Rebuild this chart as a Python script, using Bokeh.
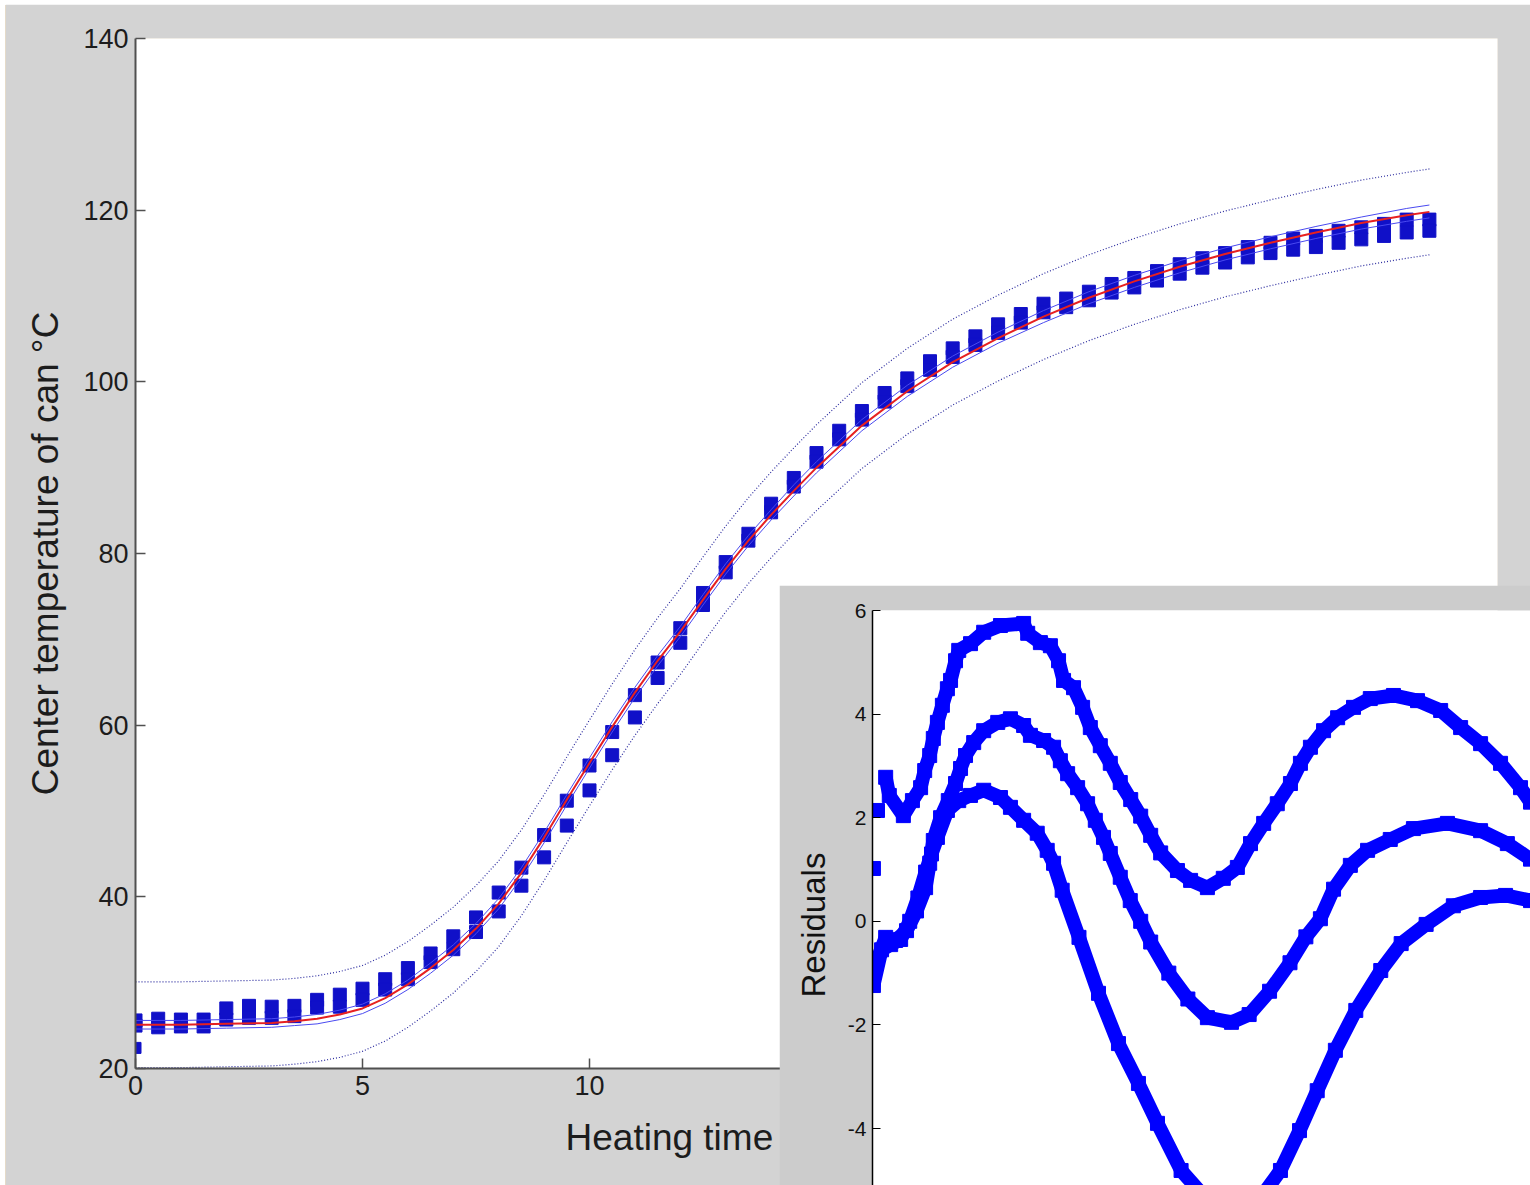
import math
from bokeh.plotting import figure
from bokeh.models import FixedTicker, Title, Range1d, Div
from bokeh.embed import file_html
from bokeh.resources import INLINE

# ---------------- main chart data ----------------
time_min = [0.0, 0.5, 1.0, 1.5, 2.0, 2.5, 3.0, 3.5, 4.0, 4.5, 5.0, 5.5, 6.0, 6.5, 7.0, 7.5,
            8.0, 8.5, 9.0, 9.5, 10.0, 10.5, 11.0, 11.5, 12.0, 12.5, 13.0, 13.5, 14.0, 14.5,
            15.0, 15.5, 16.0, 16.5, 17.0, 17.5, 18.0, 18.5, 19.0, 19.5, 20.0, 20.5, 21.0,
            21.5, 22.0, 22.5, 23.0, 23.5, 24.0, 24.5, 25.0, 25.5, 26.0, 26.5, 27.0, 27.5,
            28.0, 28.5]
temp_run1 = [25.6, 25.8, 25.7, 25.7, 27.0, 27.3, 27.2, 27.3, 28.0, 28.6, 29.3, 30.4, 31.7, 33.4,
             35.4, 37.6, 40.5, 43.4, 47.2, 51.2, 55.3, 59.2, 63.5, 67.3, 71.3, 75.4, 79.0, 82.3,
             85.8, 88.8, 91.7, 94.3, 96.6, 98.7, 100.4, 102.4, 103.9, 105.3, 106.7, 107.9, 109.1,
             109.7, 110.5, 111.4, 112.1, 112.9, 113.7, 114.4, 115.0, 115.7, 116.2, 116.7, 117.0,
             117.6, 118.0, 118.4, 118.9, 118.9]
temp_run2 = [25.0, 24.8, 24.9, 24.9, 25.7, 25.9, 25.9, 26.1, 27.1, 27.2, 28.0, 29.2, 30.4, 32.4,
             33.9, 35.9, 38.3, 41.3, 44.6, 48.3, 52.4, 56.5, 60.9, 65.5, 69.6, 74.0, 77.8, 81.5,
             84.8, 87.8, 90.7, 93.3, 95.6, 97.7, 99.5, 101.4, 102.9, 104.3, 105.7, 106.9, 108.1,
             108.7, 109.5, 110.4, 111.0, 111.8, 112.6, 113.3, 113.9, 114.5, 115.0, 115.4, 115.7,
             116.2, 116.6, 117.0, 117.4, 117.6]
extra_time = [0.0]
extra_temp = [22.4]

fit_x = [0, 1, 2, 3, 3.5, 4, 4.5, 5, 5.5, 6, 6.5, 7, 7.5, 8, 8.5, 9, 9.5, 10, 10.5, 11, 11.5,
         12, 12.5, 13, 13.5, 14, 14.5, 15, 16, 17, 18, 19, 20, 21, 22, 23, 24, 25, 26, 27, 28, 28.5]
fit_y = [25.1, 25.1, 25.2, 25.3, 25.5, 25.8, 26.3, 27.0, 28.2, 29.8, 31.7, 33.8, 36.3, 39.2, 42.8,
         46.9, 51.3, 55.6, 59.8, 63.8, 67.5, 70.9, 74.6, 78.2, 81.5, 84.5, 87.3, 90.0, 94.9, 98.9,
         102.3, 105.1, 107.6, 109.8, 111.7, 113.4, 114.9, 116.2, 117.4, 118.5, 119.4, 119.8]
conf_hi = [25.6, 25.6, 25.7, 25.8, 26.0, 26.3, 26.8, 27.5, 28.7, 30.3, 32.3, 34.4, 36.9, 39.8, 43.4,
           47.5, 51.9, 56.2, 60.4, 64.4, 68.1, 71.5, 75.2, 78.8, 82.1, 85.1, 88.0, 90.7, 95.6, 99.6,
           103.0, 105.8, 108.3, 110.5, 112.4, 114.1, 115.6, 116.9, 118.1, 119.2, 120.2, 120.6]
conf_lo = [24.6, 24.6, 24.7, 24.8, 25.0, 25.2, 25.7, 26.4, 27.6, 29.2, 31.1, 33.2, 35.7, 38.6, 42.2,
           46.3, 50.7, 55.0, 59.2, 63.2, 66.9, 70.3, 74.0, 77.6, 80.9, 83.9, 86.7, 89.4, 94.3, 98.3,
           101.7, 104.5, 106.9, 109.1, 111.0, 112.7, 114.2, 115.5, 116.7, 117.8, 118.7, 119.1]
pred_hi = [30.1, 30.1, 30.2, 30.3, 30.5, 30.8, 31.3, 32.0, 33.2, 34.8, 36.7, 38.8, 41.3, 44.2, 47.8,
           51.9, 56.3, 60.6, 64.8, 68.8, 72.5, 75.9, 79.6, 83.2, 86.5, 89.5, 92.3, 95.0, 99.9, 103.9,
           107.3, 110.1, 112.6, 114.8, 116.7, 118.4, 119.9, 121.2, 122.4, 123.5, 124.4, 124.8]
pred_lo = [20.1, 20.1, 20.2, 20.3, 20.5, 20.8, 21.3, 22.0, 23.2, 24.8, 26.7, 28.8, 31.3, 34.2, 37.8,
           41.9, 46.3, 50.6, 54.8, 58.8, 62.5, 65.9, 69.6, 73.2, 76.5, 79.5, 82.3, 85.0, 89.9, 93.9,
           97.3, 100.1, 102.6, 104.8, 106.7, 108.4, 109.9, 111.2, 112.4, 113.5, 114.4, 114.8]

x_ticks = [0, 5, 10, 15, 20, 25, 30]
y_ticks = [20, 40, 60, 80, 100, 120, 140]

# ---------------- inset (residuals) data ----------------
res_a_x = [0.11, 0.29, 0.37, 0.68, 0.88, 1.06, 1.15, 1.26, 1.34, 1.43, 1.54, 1.65, 1.72, 1.83, 1.90,
           2.16, 2.45, 2.82, 3.33, 3.42, 3.70, 3.92, 4.10, 4.21, 4.43, 4.63, 4.80, 5.02, 5.24, 5.46,
           5.69, 5.91, 6.13, 6.35, 6.72, 7.01, 7.38, 7.73, 8.04, 8.33, 8.62, 8.92, 9.21, 9.43, 9.65,
           9.94, 10.25, 10.60, 10.97, 11.48, 12.01, 12.52, 12.96, 13.40, 13.84, 14.28, 14.50]
res_a_y = [2.14, 2.78, 2.43, 2.04, 2.33, 2.58, 2.91, 3.20, 3.53, 3.84, 4.17, 4.49, 4.65, 5.03, 5.23,
           5.36, 5.58, 5.71, 5.75, 5.56, 5.38, 5.32, 5.03, 4.65, 4.51, 4.13, 3.74, 3.39, 3.05, 2.68,
           2.35, 2.03, 1.66, 1.32, 0.98, 0.79, 0.65, 0.83, 1.04, 1.50, 1.89, 2.27, 2.66, 3.05, 3.36,
           3.68, 3.93, 4.13, 4.30, 4.36, 4.26, 4.07, 3.74, 3.43, 3.05, 2.58, 2.30]

res_b_x = [0.02, 0.07, 0.29, 0.51, 0.75, 0.97, 1.17, 1.26, 1.34, 1.50, 1.67, 1.83, 1.94, 2.05, 2.23,
           2.45, 2.76, 3.04, 3.33, 3.48, 3.77, 3.99, 4.14, 4.30, 4.52, 4.74, 4.91, 5.09, 5.24, 5.46,
           5.68, 5.91, 6.13, 6.53, 6.95, 7.38, 7.91, 8.30, 8.75, 9.20, 9.55, 9.87, 10.16, 10.53,
           10.91, 11.41, 11.92, 12.67, 13.40, 13.99, 14.50]
res_b_y = [1.02, -0.82, -0.31, -0.37, -0.18, 0.20, 0.65, 1.12, 1.56, 2.00, 2.33, 2.66, 2.95, 3.20,
           3.45, 3.68, 3.84, 3.91, 3.78, 3.59, 3.49, 3.36, 3.10, 2.85, 2.58, 2.27, 1.95, 1.62, 1.31,
           0.85, 0.40, 0.00, -0.40, -1.00, -1.50, -1.86, -1.95, -1.80, -1.35, -0.80, -0.30, 0.05,
           0.62, 1.08, 1.37, 1.58, 1.79, 1.89, 1.75, 1.50, 1.20]

res_c_x = [0.02, 0.20, 0.40, 0.62, 0.82, 1.00, 1.17, 1.30, 1.43, 1.65, 1.90, 2.16, 2.45, 2.82, 3.04,
           3.33, 3.63, 3.85, 3.99, 4.18, 4.55, 4.98, 5.42, 5.86, 6.28, 6.80, 7.40, 7.95, 8.50, 8.99,
           9.41, 9.80, 10.20, 10.65, 11.20, 11.65, 12.20, 12.80, 13.40, 13.95, 14.50]
res_c_y = [-1.24, -0.55, -0.45, -0.35, 0.00, 0.45, 0.95, 1.30, 1.62, 2.14, 2.33, 2.43, 2.53, 2.39,
           2.20, 1.95, 1.70, 1.37, 1.12, 0.60, -0.31, -1.39, -2.36, -3.13, -3.90, -4.81, -5.40,
           -5.60, -5.40, -4.81, -4.04, -3.27, -2.49, -1.72, -0.95, -0.43, -0.06, 0.30, 0.46, 0.50,
           0.40]

res_ticks = [-4, -2, 0, 2, 4, 6]
res_tick_text = {-4: "-4", -2: "-2", 0: "0", 2: "2", 4: "4", 6: "6"}

FONT = "Liberation Sans"
GRAY_MAIN = "#D3D3D3"
GRAY_INSET = "#CCCCCC"
BEIGE = "#EADCC6"

# ---------------- page background ----------------
bg = Div(text="", width=1530, height=1185,
         styles={"position": "absolute", "left": "0px", "top": "0px",
                 "background-color": BEIGE},
         stylesheets=[":host { background-color: %s; }" % BEIGE])

# ---------------- main figure ----------------
p = figure(width=1525, height=1181, x_range=Range1d(0, 30), y_range=Range1d(20, 140),
           output_backend="svg", toolbar_location=None,
           min_border_left=130, min_border_right=33, min_border_top=34, min_border_bottom=117)
p.styles = {"position": "absolute", "left": "5px", "top": "4px"}
p.border_fill_color = GRAY_MAIN
p.background_fill_color = "white"
p.outline_line_color = None
p.grid.visible = False

for ax in (p.xaxis[0], p.yaxis[0]):
    ax.axis_line_color = "#505050"
    ax.axis_line_width = 2
    ax.major_tick_line_color = "#505050"
    ax.major_tick_line_width = 1.5
    ax.major_tick_in = 10
    ax.major_tick_out = 0
    ax.minor_tick_line_color = None
    ax.major_label_text_font = FONT
    ax.major_label_text_font_size = "27px"
    ax.major_label_text_color = "#1c1c1c"
p.xaxis.ticker = FixedTicker(ticks=x_ticks)
p.yaxis.ticker = FixedTicker(ticks=y_ticks)
p.xaxis.major_label_standoff = 7
p.yaxis.major_label_standoff = 7
p.yaxis.axis_label = "Center temperature of can °C"
p.yaxis.axis_label_text_font = FONT
p.yaxis.axis_label_text_font_size = "37px"
p.yaxis.axis_label_text_font_style = "normal"
p.yaxis.axis_label_text_color = "#1c1c1c"
p.yaxis.axis_label_standoff = 14

p.add_layout(Title(text="Heating time", align="left", offset=430, standoff=34,
                   text_font=FONT, text_font_size="37px", text_font_style="normal",
                   text_color="#1c1c1c"), "below")

MARK = "#1010C8"
p.scatter(time_min, temp_run1, marker="square", size=13, fill_color=MARK, line_color=MARK)
p.scatter(time_min, temp_run2, marker="square", size=13, fill_color=MARK, line_color=MARK)
p.scatter(extra_time, extra_temp, marker="square", size=11, fill_color=MARK, line_color=MARK)

p.line(fit_x, pred_hi, line_color="#2A2A9E", line_width=1.2, line_dash="1 2")
p.line(fit_x, pred_lo, line_color="#2A2A9E", line_width=1.2, line_dash="1 2")
p.line(fit_x, conf_hi, line_color="#4A4AF0", line_width=1)
p.line(fit_x, conf_lo, line_color="#4A4AF0", line_width=1)
p.line(fit_x, fit_y, line_color="#E62020", line_width=2)

# ---------------- inset figure ----------------
q = figure(width=751, height=600, x_range=Range1d(0, 14.5), y_range=Range1d(-5.1, 6),
           output_backend="svg", toolbar_location=None, x_axis_location=None,
           min_border_left=93, min_border_right=0, min_border_top=25, min_border_bottom=0)
q.styles = {"position": "absolute", "left": "779px", "top": "585px"}
q.border_fill_color = GRAY_INSET
q.background_fill_color = "white"
q.outline_line_color = None
q.grid.visible = False
q.yaxis.ticker = FixedTicker(ticks=res_ticks)
q.yaxis.major_label_overrides = res_tick_text
q.yaxis.axis_line_color = "black"
q.yaxis.axis_line_width = 1.5
q.yaxis.major_tick_line_color = "black"
q.yaxis.major_tick_in = 8
q.yaxis.major_tick_out = 0
q.yaxis.minor_tick_line_color = None
q.yaxis.major_label_text_font = FONT
q.yaxis.major_label_text_font_size = "21px"
q.yaxis.major_label_text_color = "#111111"
q.yaxis.major_label_standoff = 6

q.add_layout(Title(text="Residuals", align="left", offset=188, standoff=26,
                   text_font=FONT, text_font_size="33px", text_font_style="normal",
                   text_color="#111111"), "left")

BLUE = "#0000FF"
q.line(res_a_x[1:], res_a_y[1:], line_color=BLUE, line_width=14)
q.scatter(res_a_x, res_a_y, marker="square", size=14, fill_color=BLUE, line_color=BLUE)
q.line(res_b_x[1:], res_b_y[1:], line_color=BLUE, line_width=14)
q.scatter(res_b_x, res_b_y, marker="square", size=14, fill_color=BLUE, line_color=BLUE)
q.line(res_c_x, res_c_y, line_color=BLUE, line_width=14)
q.scatter(res_c_x, res_c_y, marker="square", size=14, fill_color=BLUE, line_color=BLUE)

open("out.html", "w").write(file_html([bg, p, q], INLINE))
